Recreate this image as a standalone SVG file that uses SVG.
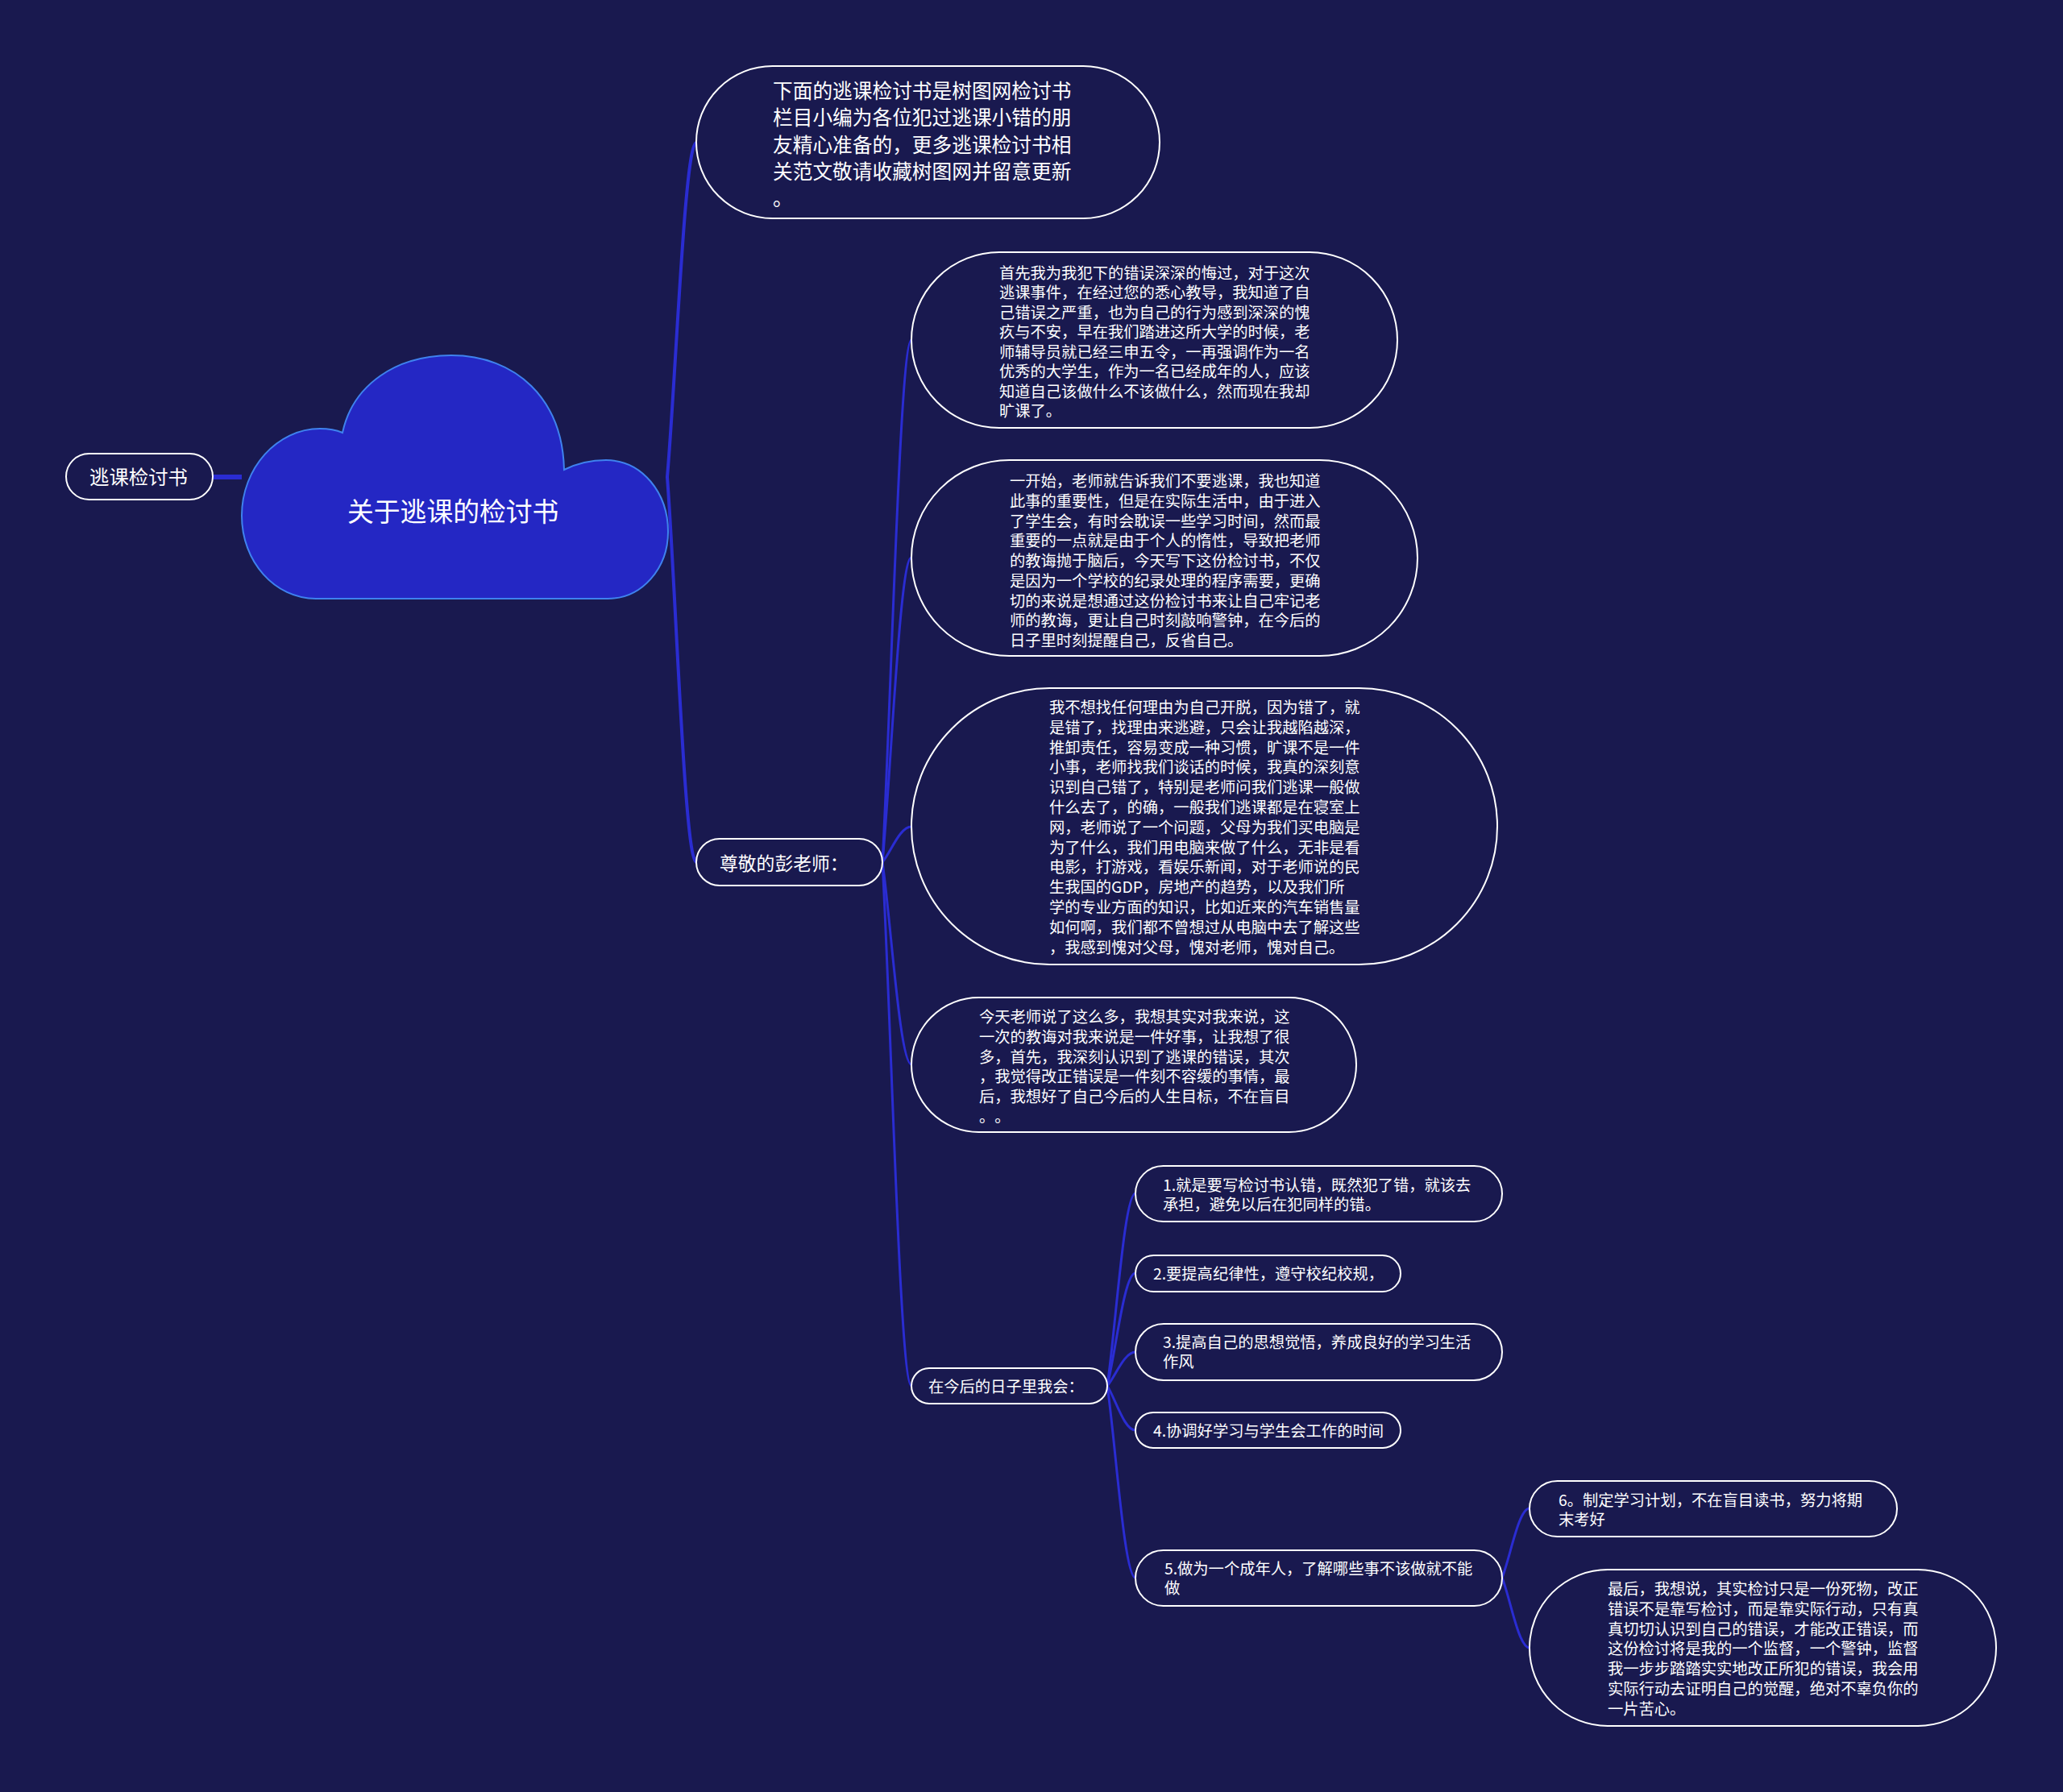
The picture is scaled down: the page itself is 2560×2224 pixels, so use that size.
<svg xmlns="http://www.w3.org/2000/svg" width="2560" height="2224" viewBox="0 0 2560 2224">
<style>
.bg{fill:#19194f}
.box{fill:#19194f;stroke:#ffffff;stroke-width:2}
.t{fill:#ffffff;font-family:"Noto Sans CJK SC","Noto Sans",sans-serif;text-spacing-trim:space-all}
.s{font-size:19.3px}
.link{fill:none;stroke:#2a2cd2;stroke-width:3;stroke-linecap:round}
.trunk{fill:none;stroke:#2a2cd2;stroke-width:4;stroke-linecap:round}
</style>
<rect class="bg" x="0" y="0" width="2560" height="2224"/>

<g id="connectors">
<line x1="264" y1="592" x2="300" y2="592" stroke="#2a2cd2" stroke-width="6"/>
<path class="trunk" d="M828,592 C838.8,467.5 849.6,177 864,177"/>
<path class="trunk" d="M828,592 C838.8,735.4 849.6,1070 864,1070"/>
<path class="link" d="M1095,1070 C1105.8,875.6 1116.6,422 1131,422"/>
<path class="link" d="M1095,1070 C1105.8,956.6 1116.6,692 1131,692"/>
<path class="link" d="M1095,1070 C1105.8,1056.8 1116.6,1026 1131,1026"/>
<path class="link" d="M1095,1070 C1105.8,1145.3 1116.6,1321 1131,1321"/>
<path class="link" d="M1095,1070 C1105.8,1265 1116.6,1720 1131,1720"/>
<path class="link" d="M1374,1720 C1384.5,1648.3 1395,1481 1409,1481"/>
<path class="link" d="M1374,1720 C1384.5,1678 1395,1580 1409,1580"/>
<path class="link" d="M1374,1720 C1384.5,1707.4 1395,1678 1409,1678"/>
<path class="link" d="M1374,1720 C1384.5,1736.5 1395,1775 1409,1775"/>
<path class="link" d="M1374,1720 C1384.5,1791.4 1395,1958 1409,1958"/>
<path class="link" d="M1864,1958 C1874.2,1932.2 1884.4,1872 1898,1872"/>
<path class="link" d="M1864,1958 C1874.2,1984.1 1884.4,2045 1898,2045"/>
</g>

<g id="root">
<path d="M392,743 C341,743 300,697 300,640 C300,581 344,532 397,532 C408,532 418,534 425,537 C438,477 492,441 560,441 C640,441 698,495 700,583 C716,575 733,571 752,571 C797,571 829,612 829,660 C829,705 797,743 754,743 Z" fill="#2427c4" stroke="#3f82ee" stroke-width="2"/>
<text class="t" x="431" y="647" font-size="32.8">关于逃课的检讨书</text>
</g>

<g id="n-left">
<rect class="box" x="82" y="563" width="182" height="57" rx="28.5"/>
<text class="t" x="111" y="601" font-size="24.4">逃课检讨书</text>
</g>

<g id="n-intro">
<rect class="box" x="864" y="82" width="575" height="189" rx="94.5"/>
<text class="t" font-size="24.7">
<tspan x="959" y="122">下面的逃课检讨书是树图网检讨书</tspan>
<tspan x="959" dy="33.3">栏目小编为各位犯过逃课小错的朋</tspan>
<tspan x="959" dy="33.3">友精心准备的，更多逃课检讨书相</tspan>
<tspan x="959" dy="33.3">关范文敬请收藏树图网并留意更新</tspan>
<tspan x="959" dy="33.3">。</tspan>
</text>
</g>

<g id="n-teacher">
<rect class="box" x="864" y="1041" width="231" height="58" rx="29"/>
<text class="t" x="893" y="1080" font-size="22.8">尊敬的彭老师：</text>
</g>

<g id="n-p1">
<rect class="box" x="1131" y="313" width="603" height="218" rx="109"/>
<text class="t s">
<tspan x="1240" y="346">首先我为我犯下的错误深深的悔过，对于这次</tspan>
<tspan x="1240" dy="24.45">逃课事件，在经过您的悉心教导，我知道了自</tspan>
<tspan x="1240" dy="24.45">己错误之严重，也为自己的行为感到深深的愧</tspan>
<tspan x="1240" dy="24.45">疚与不安，早在我们踏进这所大学的时候，老</tspan>
<tspan x="1240" dy="24.45">师辅导员就已经三申五令，一再强调作为一名</tspan>
<tspan x="1240" dy="24.45">优秀的大学生，作为一名已经成年的人，应该</tspan>
<tspan x="1240" dy="24.45">知道自己该做什么不该做什么，然而现在我却</tspan>
<tspan x="1240" dy="24.45">旷课了。</tspan>
</text>
</g>

<g id="n-p2">
<rect class="box" x="1131" y="571" width="628" height="243" rx="121.5"/>
<text class="t s">
<tspan x="1253" y="604">一开始，老师就告诉我们不要逃课，我也知道</tspan>
<tspan x="1253" dy="24.75">此事的重要性，但是在实际生活中，由于进入</tspan>
<tspan x="1253" dy="24.75">了学生会，有时会耽误一些学习时间，然而最</tspan>
<tspan x="1253" dy="24.75">重要的一点就是由于个人的惰性，导致把老师</tspan>
<tspan x="1253" dy="24.75">的教诲抛于脑后，今天写下这份检讨书，不仅</tspan>
<tspan x="1253" dy="24.75">是因为一个学校的纪录处理的程序需要，更确</tspan>
<tspan x="1253" dy="24.75">切的来说是想通过这份检讨书来让自己牢记老</tspan>
<tspan x="1253" dy="24.75">师的教诲，更让自己时刻敲响警钟，在今后的</tspan>
<tspan x="1253" dy="24.75">日子里时刻提醒自己，反省自己。</tspan>
</text>
</g>

<g id="n-p3">
<rect class="box" x="1131" y="854" width="727" height="343" rx="171.5"/>
<text class="t s">
<tspan x="1302" y="885">我不想找任何理由为自己开脱，因为错了，就</tspan>
<tspan x="1302" dy="24.8">是错了，找理由来逃避，只会让我越陷越深，</tspan>
<tspan x="1302" dy="24.8">推卸责任，容易变成一种习惯，旷课不是一件</tspan>
<tspan x="1302" dy="24.8">小事，老师找我们谈话的时候，我真的深刻意</tspan>
<tspan x="1302" dy="24.8">识到自己错了，特别是老师问我们逃课一般做</tspan>
<tspan x="1302" dy="24.8">什么去了，的确，一般我们逃课都是在寝室上</tspan>
<tspan x="1302" dy="24.8">网，老师说了一个问题，父母为我们买电脑是</tspan>
<tspan x="1302" dy="24.8">为了什么，我们用电脑来做了什么，无非是看</tspan>
<tspan x="1302" dy="24.8">电影，打游戏，看娱乐新闻，对于老师说的民</tspan>
<tspan x="1302" dy="24.8">生我国的GDP，房地产的趋势，以及我们所</tspan>
<tspan x="1302" dy="24.8">学的专业方面的知识，比如近来的汽车销售量</tspan>
<tspan x="1302" dy="24.8">如何啊，我们都不曾想过从电脑中去了解这些</tspan>
<tspan x="1302" dy="24.8">，我感到愧对父母，愧对老师，愧对自己。</tspan>
</text>
</g>

<g id="n-p4">
<rect class="box" x="1131" y="1238" width="552" height="167" rx="83.5"/>
<text class="t s">
<tspan x="1215" y="1269">今天老师说了这么多，我想其实对我来说，这</tspan>
<tspan x="1215" dy="24.75">一次的教诲对我来说是一件好事，让我想了很</tspan>
<tspan x="1215" dy="24.75">多，首先，我深刻认识到了逃课的错误，其次</tspan>
<tspan x="1215" dy="24.75">，我觉得改正错误是一件刻不容缓的事情，最</tspan>
<tspan x="1215" dy="24.75">后，我想好了自己今后的人生目标，不在盲目</tspan>
<tspan x="1215" dy="24.75">。。</tspan>
</text>
</g>

<g id="n-future">
<rect class="box" x="1131" y="1698" width="243" height="44" rx="22"/>
<text class="t s" x="1152" y="1728">在今后的日子里我会：</text>
</g>

<g id="n-i1">
<rect class="box" x="1409" y="1447" width="455" height="69" rx="34.5"/>
<text class="t s">
<tspan x="1443" y="1478">1.就是要写检讨书认错，既然犯了错，就该去</tspan>
<tspan x="1443" dy="24.4">承担，避免以后在犯同样的错。</tspan>
</text>
</g>

<g id="n-i2">
<rect class="box" x="1409" y="1558" width="329" height="45" rx="22.5"/>
<text class="t s" x="1431" y="1588">2.要提高纪律性，遵守校纪校规，</text>
</g>

<g id="n-i3">
<rect class="box" x="1409" y="1643" width="455" height="70" rx="35"/>
<text class="t s">
<tspan x="1443" y="1673">3.提高自己的思想觉悟，养成良好的学习生活</tspan>
<tspan x="1443" dy="24.4">作风</tspan>
</text>
</g>

<g id="n-i4">
<rect class="box" x="1409" y="1753" width="329" height="44" rx="22"/>
<text class="t s" x="1431" y="1783">4.协调好学习与学生会工作的时间</text>
</g>

<g id="n-i5">
<rect class="box" x="1409" y="1924" width="455" height="69" rx="34.5"/>
<text class="t s">
<tspan x="1445" y="1954">5.做为一个成年人，了解哪些事不该做就不能</tspan>
<tspan x="1445" dy="24.4">做</tspan>
</text>
</g>

<g id="n-i6">
<rect class="box" x="1898" y="1838" width="456" height="69" rx="34.5"/>
<text class="t s">
<tspan x="1934" y="1869">6。制定学习计划，不在盲目读书，努力将期</tspan>
<tspan x="1934" dy="24.4">末考好</tspan>
</text>
</g>

<g id="n-last">
<rect class="box" x="1898" y="1948" width="579" height="194" rx="97"/>
<text class="t s">
<tspan x="1995" y="1979">最后，我想说，其实检讨只是一份死物，改正</tspan>
<tspan x="1995" dy="24.8">错误不是靠写检讨，而是靠实际行动，只有真</tspan>
<tspan x="1995" dy="24.8">真切切认识到自己的错误，才能改正错误，而</tspan>
<tspan x="1995" dy="24.8">这份检讨将是我的一个监督，一个警钟，监督</tspan>
<tspan x="1995" dy="24.8">我一步步踏踏实实地改正所犯的错误，我会用</tspan>
<tspan x="1995" dy="24.8">实际行动去证明自己的觉醒，绝对不辜负你的</tspan>
<tspan x="1995" dy="24.8">一片苦心。</tspan>
</text>
</g>
</svg>
